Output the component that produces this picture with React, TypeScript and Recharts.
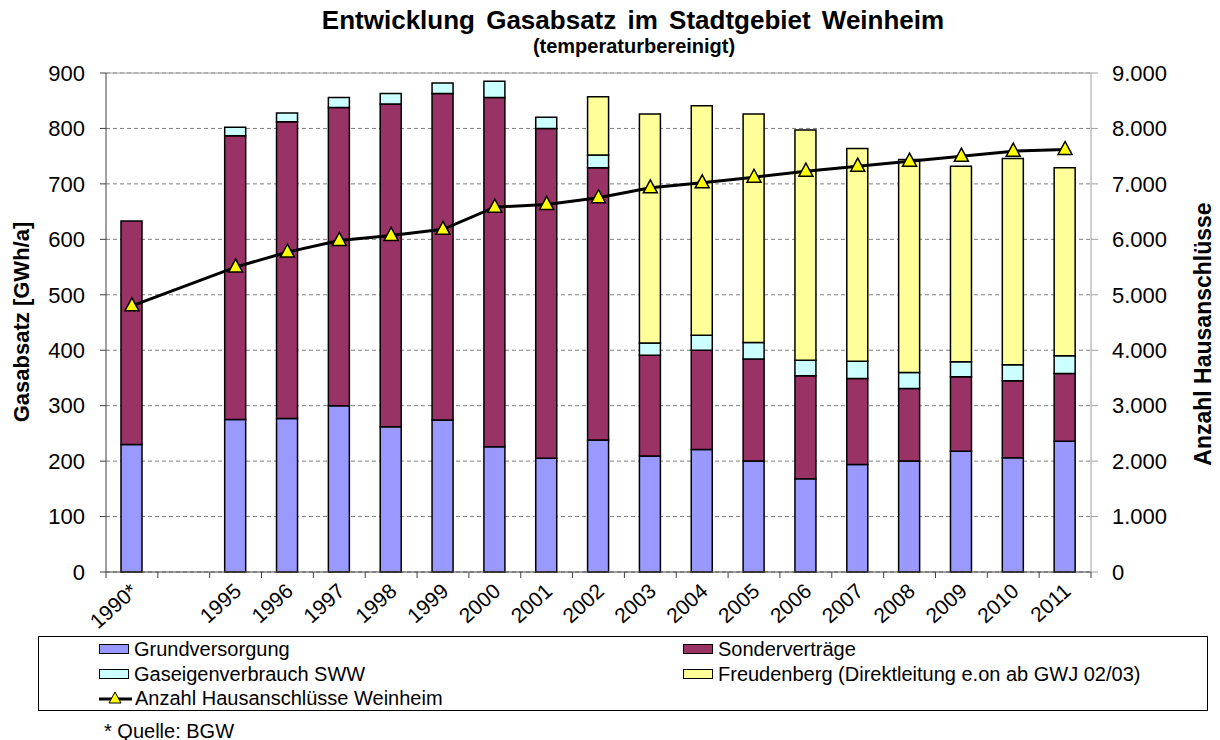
import React from "react";
import {
  ComposedChart,
  Bar,
  Line,
  XAxis,
  YAxis,
  CartesianGrid,
  ReferenceLine,
} from "recharts";

const years = ["1990*", "", "1995", "1996", "1997", "1998", "1999", "2000", "2001", "2002", "2003", "2004", "2005", "2006", "2007", "2008", "2009", "2010", "2011"];
const grundversorgung = [230, null, 275, 277, 300, 262, 274, 226, 205, 238, 209, 221, 200, 168, 194, 200, 218, 206, 236];
const sondervertraege = [403, null, 512, 535, 538, 582, 589, 630, 595, 491, 182, 179, 184, 186, 155, 131, 134, 139, 122];
const gaseigenverbrauch = [0, null, 15, 16, 18, 19, 19, 29, 20, 23, 22, 27, 30, 28, 31, 29, 27, 29, 32];
const freudenberg = [0, null, 0, 0, 0, 0, 0, 0, 0, 105, 413, 414, 412, 415, 384, 384, 353, 372, 339];
const hausanschluesse = [4800, null, 5500, 5770, 5980, 6070, 6180, 6580, 6630, 6750, 6930, 7020, 7120, 7230, 7320, 7410, 7500, 7590, 7620];

const leftTicks = [0, 100, 200, 300, 400, 500, 600, 700, 800, 900];
const rightTicks = [0, 1000, 2000, 3000, 4000, 5000, 6000, 7000, 8000, 9000];

const FONT = "'Liberation Sans', Arial, sans-serif";

const series = [
  { key: "grund", name: "Grundversorgung", color: "#9999FF" },
  { key: "sonder", name: "Sonderverträge", color: "#993366" },
  { key: "gas", name: "Gaseigenverbrauch SWW", color: "#CCFFFF" },
  { key: "freud", name: "Freudenberg (Direktleitung e.on ab GWJ 02/03)", color: "#FFFF99" },
];

const data = years.map((year, i) => ({
  year,
  grund: grundversorgung[i],
  sonder: sondervertraege[i],
  gas: gaseigenverbrauch[i],
  freud: freudenberg[i],
  anschluesse: hausanschluesse[i],
}));

function formatThousands(v: number) {
  return v === 0 ? "0" : v.toLocaleString("de-DE");
}

function Triangle({ cx, cy }: { cx?: number; cy?: number }) {
  if (cx == null || cy == null || isNaN(cy)) return null;
  return (
    <polygon
      points={`${cx},${cy - 8} ${cx - 7},${cy + 5} ${cx + 7},${cy + 5}`}
      fill="#FFFF00"
      stroke="#000"
      strokeWidth={1.5}
    />
  );
}

function YearTick(props: any) {
  const { x, y, payload, index } = props;
  const half = payload?.offset || 26;
  return (
    <g>
      <line x1={x - half} y1={y - 8} x2={x - half} y2={y - 2} stroke="#404040" />
      {index === years.length - 1 && (
        <line x1={x + half} y1={y - 8} x2={x + half} y2={y - 2} stroke="#404040" />
      )}
      {payload.value && (
        <text
          x={x + 7}
          y={y + 13}
          textAnchor="end"
          transform={`rotate(-42 ${x + 7} ${y + 13})`}
          fontSize={21}
          fontFamily={FONT}
          fill="#000"
        >
          {payload.value}
        </text>
      )}
    </g>
  );
}

function LegendSwatch({ color }: { color: string }) {
  return (
    <span
      style={{
        display: "inline-block",
        width: 28,
        height: 8,
        background: color,
        border: "1.5px solid #000",
        marginRight: 5,
        verticalAlign: "middle",
      }}
    />
  );
}

function LegendBox() {
  const item = (left: number, top: number, content: React.ReactNode, label: string) => (
    <div
      key={label}
      style={{ position: "absolute", left, top, height: 24, display: "flex", alignItems: "center", whiteSpace: "nowrap", fontSize: 20 }}
    >
      {content}
      <span>{label}</span>
    </div>
  );
  return (
    <div
      style={{
        position: "absolute",
        left: 38,
        top: 636,
        width: 1168,
        height: 73,
        border: "1px solid #000",
        fontFamily: FONT,
      }}
    >
      {item(60, 0, <LegendSwatch color={series[0].color} />, series[0].name)}
      {item(644, 0, <LegendSwatch color={series[1].color} />, series[1].name)}
      {item(60, 25, <LegendSwatch color={series[2].color} />, series[2].name)}
      {item(644, 25, <LegendSwatch color={series[3].color} />, series[3].name)}
      {item(
        60,
        49,
        <svg width={34} height={16} style={{ marginRight: 2 }}>
          <line x1={0} y1={9} x2={33} y2={9} stroke="#000" strokeWidth={3} />
          <polygon points="16,2 10,13 22,13" fill="#FFFF00" stroke="#000" strokeWidth={1} />
        </svg>,
        "Anzahl Hausanschlüsse Weinheim"
      )}
    </div>
  );
}

export default function App() {
  return (
    <div style={{ position: "absolute", left: 0, top: 0, width: 1220, height: 740, background: "#fff", fontFamily: FONT }}>
      <div style={{ position: "absolute", left: 23, width: 1220, top: 5, textAlign: "center", fontWeight: "bold", fontSize: 26, wordSpacing: 4 }}>
        Entwicklung Gasabsatz im Stadtgebiet Weinheim
      </div>
      <div style={{ position: "absolute", left: 24, width: 1220, top: 35, textAlign: "center", fontWeight: "bold", fontSize: 20 }}>
        (temperaturbereinigt)
      </div>
      <div
        style={{
          position: "absolute",
          left: 22,
          top: 322,
          transform: "translate(-50%, -50%) rotate(-90deg)",
          fontWeight: "bold",
          fontSize: 22,
          whiteSpace: "nowrap",
        }}
      >
        Gasabsatz [GWh/a]
      </div>
      <div
        style={{
          position: "absolute",
          left: 1203,
          top: 334,
          transform: "translate(-50%, -50%) rotate(-90deg)",
          fontWeight: "bold",
          fontSize: 23,
          whiteSpace: "nowrap",
        }}
      >
        Anzahl Hausanschlüsse
      </div>
      <div style={{ position: "absolute", left: 0, top: 0 }}>
        <ComposedChart
          width={1220}
          height={740}
          data={data}
          margin={{ top: 73, right: 20, left: 40, bottom: 108 }}
        >
          <CartesianGrid yAxisId="left" vertical={false} stroke="#808080" strokeDasharray="4 3" />
          <XAxis
            dataKey="year"
            height={60}
            interval={0}
            tickLine={false}
            axisLine={{ stroke: "#404040" }}
            tick={<YearTick />}
          />
          <YAxis
            yAxisId="left"
            width={66}
            domain={[0, 900]}
            ticks={leftTicks}
            axisLine={{ stroke: "#404040" }}
            tickLine={{ stroke: "#404040" }}
            tickSize={6}
            tickMargin={15}
            tick={{ fontSize: 22, fill: "#000", fontFamily: FONT }}
          />
          <YAxis
            yAxisId="right"
            orientation="right"
            width={109}
            domain={[0, 9000]}
            ticks={rightTicks}
            tickFormatter={formatThousands}
            axisLine={{ stroke: "#A0A0A0" }}
            tickLine={{ stroke: "#A0A0A0" }}
            tickSize={7}
            tick={{ fontSize: 22, fill: "#000", fontFamily: FONT, textAnchor: "start" }}
            tickMargin={14}
          />
          <ReferenceLine yAxisId="left" y={900} stroke="#A0A0A0" />
          {series.map((s) => (
            <Bar
              key={s.key}
              yAxisId="left"
              dataKey={s.key}
              name={s.name}
              stackId="a"
              fill={s.color}
              stroke="#000"
              strokeWidth={1.5}
              barSize={21}
              isAnimationActive={false}
            />
          ))}
          <Line
            yAxisId="right"
            dataKey="anschluesse"
            name="Anzahl Hausanschlüsse Weinheim"
            stroke="#000"
            strokeWidth={3}
            connectNulls
            dot={<Triangle />}
            activeDot={false}
            isAnimationActive={false}
          />
        </ComposedChart>
      </div>
      <LegendBox />
      <div style={{ position: "absolute", left: 104, top: 720, fontSize: 20 }}>* Quelle: BGW</div>
    </div>
  );
}
